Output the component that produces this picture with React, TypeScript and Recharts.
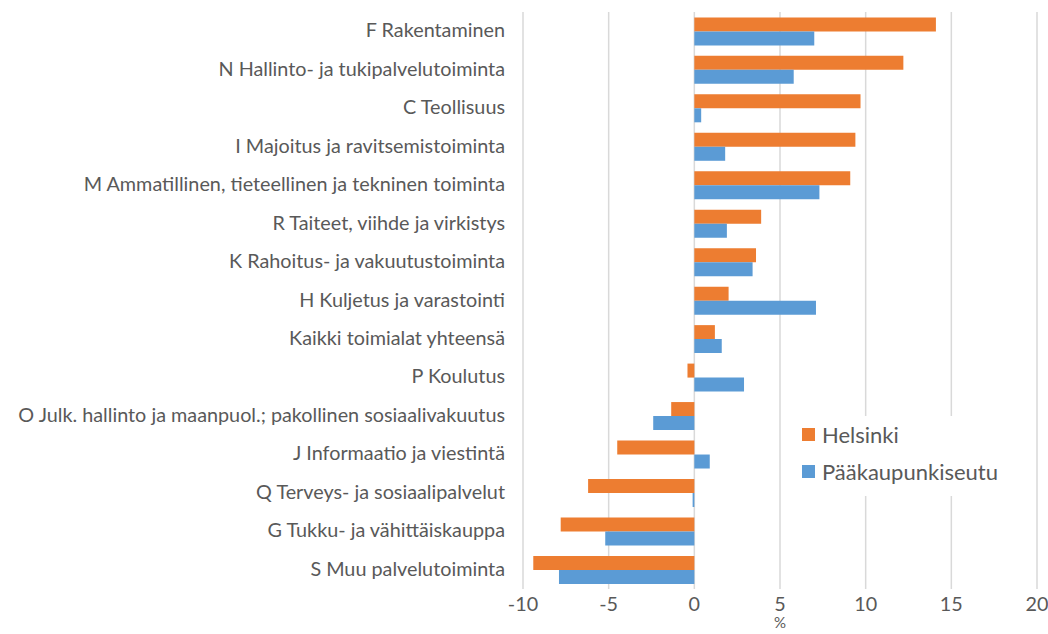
import { BarChart, Bar, XAxis, YAxis, CartesianGrid } from 'recharts';

const CATEGORIES = [
  'F Rakentaminen',
  'N Hallinto- ja tukipalvelutoiminta',
  'C Teollisuus',
  'I Majoitus ja ravitsemistoiminta',
  'M Ammatillinen, tieteellinen ja tekninen toiminta',
  'R Taiteet, viihde ja virkistys',
  'K Rahoitus- ja vakuutustoiminta',
  'H Kuljetus ja varastointi',
  'Kaikki toimialat yhteensä',
  'P Koulutus',
  'O Julk. hallinto ja maanpuol.; pakollinen sosiaalivakuutus',
  'J Informaatio ja viestintä',
  'Q Terveys- ja sosiaalipalvelut',
  'G Tukku- ja vähittäiskauppa',
  'S Muu palvelutoiminta',
];

const HELSINKI = [14.1, 12.2, 9.7, 9.4, 9.1, 3.9, 3.6, 2.0, 1.2, -0.4, -1.35, -4.5, -6.2, -7.8, -9.4];
const PKS = [7.0, 5.8, 0.4, 1.8, 7.3, 1.9, 3.4, 7.1, 1.6, 2.9, -2.4, 0.9, -0.1, -5.2, -7.9];

const X_TICKS = [-10, -5, 0, 5, 10, 15, 20];

const ORANGE = '#ED7D31';
const BLUE = '#5B9BD5';
const TEXT = '#595959';
const FONT = 'Lato, "Open Sans", sans-serif';
const FS = 19.8;

const data = CATEGORIES.map((name, i) => ({
  name,
  helsinki: HELSINKI[i],
  pks: PKS[i],
}));

function YTick(props: any) {
  const { x, y, payload } = props;
  return (
    <text x={x} y={y} dy={6} textAnchor="end" fill={TEXT} fontSize={FS} fontFamily={FONT}>
      {payload.value}
    </text>
  );
}

function XTick(props: any) {
  const { x, y, payload } = props;
  return (
    <text x={x} y={y} dy={14} textAnchor="middle" fill={TEXT} fontSize={FS} fontFamily={FONT}>
      {payload.value}
    </text>
  );
}

// axis title near the bottom edge, kept inside the picture
function PercentLabel(props: any) {
  const { viewBox } = props;
  const cx = viewBox.x + viewBox.width / 2;
  return (
    <text x={cx} y={628} textAnchor="middle" fill={TEXT} fontSize={15} fontFamily={FONT}>
      %
    </text>
  );
}

// legend sits on top of the plot with a white box hiding the gridlines
function LegendBox() {
  const items = [
    { label: 'Helsinki', color: ORANGE },
    { label: 'Pääkaupunkiseutu', color: BLUE },
  ];
  return (
    <div
      style={{
        position: 'absolute',
        left: 794,
        top: 416,
        width: 228,
        height: 80,
        background: '#fff',
      }}
    >
      {items.map((it, i) => (
        <div
          key={it.label}
          style={{
            position: 'absolute',
            left: 8,
            top: i === 0 ? 0 : 37,
            display: 'flex',
            alignItems: 'center',
            height: 36,
            fontFamily: FONT,
            fontSize: 22,
            color: TEXT,
            whiteSpace: 'nowrap',
          }}
        >
          <span style={{ width: 13, height: 13, background: it.color, marginRight: 7, display: 'inline-block' }} />
          {it.label}
        </div>
      ))}
    </div>
  );
}

export default function App() {
  return (
    <div style={{ position: 'absolute', left: 0, top: 0, width: 1048, height: 634, background: '#fff', overflow: 'hidden' }}>
      <BarChart
        width={1048}
        height={634}
        data={data}
        layout="vertical"
        margin={{ top: 12, right: 11, left: 0, bottom: 0 }}
        barCategoryGap="14%"
        barGap={0}
      >
        <CartesianGrid horizontal={false} stroke="#d9d9d9" strokeWidth={1.5} />
        <XAxis
          type="number"
          domain={[-10, 20]}
          ticks={X_TICKS}
          axisLine={false}
          tickLine={false}
          height={45}
          tick={<XTick />}
          label={<PercentLabel />}
        />
        <YAxis
          type="category"
          dataKey="name"
          width={523}
          axisLine={false}
          tickLine={false}
          tickMargin={12}
          interval={0}
          tick={<YTick />}
        />
        <Bar dataKey="helsinki" name="Helsinki" fill={ORANGE} isAnimationActive={false} />
        <Bar dataKey="pks" name="Pääkaupunkiseutu" fill={BLUE} isAnimationActive={false} />
      </BarChart>
      <LegendBox />
    </div>
  );
}
